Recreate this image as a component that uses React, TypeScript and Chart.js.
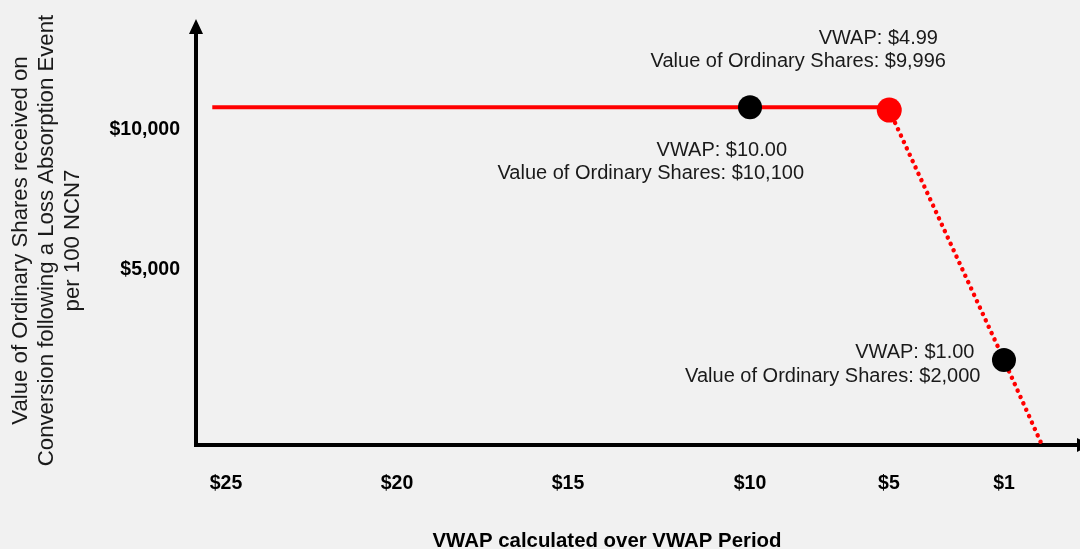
import React, { useEffect, useRef } from 'react';
import { Chart, LinearScale, registerables } from 'chart.js';

const FONT = "'Liberation Sans', Arial, Helvetica, sans-serif";

// ---------------- data ----------------
const xTickPrices = [25, 20, 15, 10, 5, 1];
const yTickValues = [5000, 10000];
const capPrices = [25.4, 4.99];
const capValues = [10100, 10100];
const floorPrices = [4.99, 1, 0];
const floorValues = [9996, 2000, 0];
const markerPrices = [10, 4.99, 1];
const markerValues = [10100, 9996, 2000];
const markerColors = ['#000000', '#ff0000', '#000000'];
const xAxisTitle = 'VWAP calculated over VWAP Period';
const yAxisTitle = [
  'Value of Ordinary Shares received on',
  'Conversion following a Loss Absorption Event',
  'per 100 NCN7',
];

// ---------------- layout (schematic, non-uniform axes) ----------------
const X_KNOTS = {
  values: [25, 20, 15, 10, 5, 1, 0],
  decimals: [0.0339, 0.2274, 0.4208, 0.6267, 0.7839, 0.914, 0.957],
};
const Y_KNOTS = {
  values: [0, 2000, 5000, 10000],
  decimals: [0, 0.2029, 0.4654, 0.7995],
};
// [dx, dy] of each annotation line (right-aligned) relative to its marker
const ANNOT_OFFSETS = [
  [[37, 43.5], [54, 66.5]],
  [[48.7, -72], [56.7, -49]],
  [[-29.5, -7.5], [-23.5, 16.5]],
];

function interp(v: number, xs: number[], ys: number[]) {
  const n = xs.length;
  const asc = xs[n - 1] > xs[0];
  let i = 0;
  while (i < n - 2 && (asc ? v > xs[i + 1] : v < xs[i + 1])) i++;
  const t = (v - xs[i]) / (xs[i + 1] - xs[i]);
  return ys[i] + t * (ys[i + 1] - ys[i]);
}

function makePiecewise(id: string, knots: { values: number[]; decimals: number[] }) {
  return class extends (LinearScale as any) {
    static id = id;
    static defaults = {};
    getPixelForValue(value: any) {
      if (value === null || value === undefined || isNaN(value)) return NaN;
      return (this as any).getPixelForDecimal(interp(+value, knots.values, knots.decimals));
    }
    getValueForPixel(pixel: number) {
      return interp((this as any).getDecimalForPixel(pixel), knots.decimals, knots.values);
    }
  };
}

const PiecewiseX = makePiecewise('piecewiseX', X_KNOTS);
const PiecewiseY = makePiecewise('piecewiseY', Y_KNOTS);

Chart.register(...registerables, PiecewiseX as any, PiecewiseY as any);

const annotationText = (i: number) => [
  `VWAP: $${markerPrices[i].toFixed(2)}`,
  `Value of Ordinary Shares: $${markerValues[i].toLocaleString('en-US')}`,
];

const zeroPaddings = (s: any) => {
  s.paddingLeft = 0;
  s.paddingRight = 0;
  s.paddingTop = 0;
  s.paddingBottom = 0;
};

const overlayPlugin = {
  id: 'overlay',
  afterDraw(chart: any) {
    const { ctx, chartArea } = chart;
    const { left, right, top, bottom } = chartArea;
    ctx.save();
    // arrow heads
    ctx.fillStyle = '#000';
    ctx.beginPath();
    ctx.moveTo(left, top - 7);
    ctx.lineTo(left - 7, top + 8);
    ctx.lineTo(left + 7, top + 8);
    ctx.closePath();
    ctx.fill();
    ctx.beginPath();
    ctx.moveTo(right + 12, bottom);
    ctx.lineTo(right - 3, bottom - 7);
    ctx.lineTo(right - 3, bottom + 7);
    ctx.closePath();
    ctx.fill();

    // annotations
    const meta = chart.getDatasetMeta(0);
    ctx.font = `20px ${FONT}`;
    ctx.fillStyle = '#1a1a1a';
    ctx.textAlign = 'right';
    ctx.textBaseline = 'middle';
    meta.data.forEach((pt: any, i: number) => {
      annotationText(i).forEach((t, j) => {
        const [dx, dy] = ANNOT_OFFSETS[i][j];
        ctx.fillText(t, pt.x + dx, pt.y + dy);
      });
    });

    // y axis title (rotated, three centred lines)
    ctx.save();
    ctx.translate(20.5, (top + bottom) / 2 + 5);
    ctx.rotate(-Math.PI / 2);
    ctx.font = `22.2px ${FONT}`;
    ctx.fillStyle = '#1a1a1a';
    ctx.textAlign = 'center';
    ctx.textBaseline = 'middle';
    yAxisTitle.forEach((t, i) => ctx.fillText(t, 0, i * 26.4));
    ctx.restore();

    // x axis title
    ctx.font = `bold 20.4px ${FONT}`;
    ctx.fillStyle = '#000';
    ctx.textAlign = 'center';
    ctx.textBaseline = 'alphabetic';
    ctx.fillText(xAxisTitle, (left + right) / 2 - 31, 547);
    ctx.restore();
  },
};

export default function App() {
  const ref = useRef<HTMLCanvasElement | null>(null);
  useEffect(() => {
    const canvas = ref.current;
    if (!canvas) return;
    const chart = new Chart(canvas, {
      type: 'scatter',
      data: {
        datasets: [
          {
            label: 'markers',
            data: markerPrices.map((x, i) => ({ x, y: markerValues[i] })),
            showLine: false,
            pointRadius: [12, 12.5, 12],
            pointHoverRadius: [12, 12.5, 12],
            pointBackgroundColor: markerColors,
            pointBorderWidth: 0,
            pointBorderColor: markerColors,
          },
          {
            label: 'cap',
            data: capPrices.map((x, i) => ({ x, y: capValues[i] })),
            showLine: true,
            borderColor: '#ff0000',
            borderWidth: 4,
            pointRadius: 0,
          },
          {
            label: 'floor',
            data: floorPrices.map((x, i) => ({ x, y: floorValues[i] })),
            showLine: true,
            borderColor: '#ff0000',
            borderWidth: 4.5,
            borderDash: [0.01, 7],
            borderCapStyle: 'round',
            pointRadius: 0,
          },
        ] as any,
      },
      options: {
        responsive: false,
        animation: false,
        events: [],
        layout: { autoPadding: false, padding: { top: 26, right: 0, bottom: 0, left: 0 } },
        plugins: { legend: { display: false }, tooltip: { enabled: false } },
        scales: {
          x: {
            type: 'piecewiseX' as any,
            position: 'bottom',
            grid: { display: false, drawTicks: false },
            border: { display: true, color: '#000', width: 4 },
            ticks: {
              autoSkip: false,
              maxRotation: 0,
              minRotation: 0,
              padding: 27,
              color: '#000',
              font: { family: FONT, size: 19.5, weight: 'bold' },
              callback: (v: any) => `$${v}`,
            },
            afterBuildTicks: (s: any) => {
              s.ticks = xTickPrices.map((value) => ({ value }));
            },
            afterFit: (s: any) => {
              s.height = 104;
              zeroPaddings(s);
            },
          } as any,
          y: {
            type: 'piecewiseY' as any,
            position: 'left',
            grid: { display: false, drawTicks: false },
            border: { display: true, color: '#000', width: 4 },
            ticks: {
              autoSkip: false,
              padding: 16,
              labelOffset: 20,
              color: '#000',
              font: { family: FONT, size: 19.5, weight: 'bold' },
              callback: (v: any) => `$${Number(v).toLocaleString('en-US')}`,
            },
            title: { display: false },
            afterBuildTicks: (s: any) => {
              s.ticks = yTickValues.map((value) => ({ value }));
            },
            afterFit: (s: any) => {
              s.width = 196;
              zeroPaddings(s);
            },
          } as any,
        },
      },
      plugins: [overlayPlugin as any],
    });
    return () => chart.destroy();
  }, []);

  return (
    <div style={{ width: 1080, height: 549, background: '#f1f1f1' }}>
      <style>{'body{margin:0;background:#f1f1f1;}'}</style>
      <canvas ref={ref} width={1080} height={549} style={{ display: 'block' }} />
    </div>
  );
}
